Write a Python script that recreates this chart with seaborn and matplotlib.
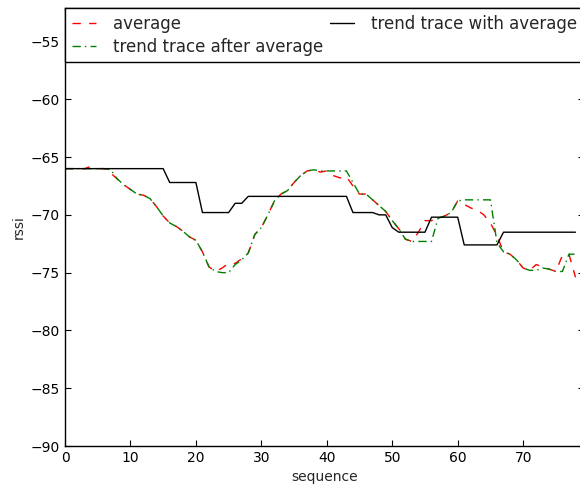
import numpy as np
import pandas as pd
import seaborn as sns
import matplotlib
matplotlib.use("Agg")
import matplotlib.pyplot as plt

# rssi readings
sequence = list(range(79))
average = [
    -66.0, -66.0, -66.0, -66.0, -65.8, -66.0, -66.0, -66.4, -66.9, -67.4,
    -67.8, -68.2, -68.3, -68.6, -69.3, -70.1, -70.7, -71.0, -71.4, -71.9,
    -72.2, -73.2, -74.5, -74.9, -74.6, -74.2, -74.2, -73.8, -73.3, -71.7,
    -71.1, -70.0, -68.8, -68.2, -67.9, -67.2, -66.6, -66.2, -66.1, -66.3,
    -66.2, -66.6, -66.8, -66.7, -67.5, -68.2, -68.2, -68.7, -69.2, -69.7,
    -70.5, -71.2, -72.1, -72.3, -71.5, -70.5, -70.5, -70.3, -70.1, -69.8,
    -68.8, -69.1, -69.4, -69.6, -70.0, -70.7, -71.8, -73.2, -73.4, -73.9,
    -74.6, -74.8, -74.3, -74.5, -74.7, -74.9, -73.5, -73.4, -75.4,
]
trend_after = [
    -66.0, -66.0, -66.0, -66.0, -66.0, -66.0, -66.0, -66.1, -66.9, -67.4,
    -67.8, -68.2, -68.3, -68.6, -69.3, -70.1, -70.7, -71.0, -71.4, -71.9,
    -72.2, -73.2, -74.5, -74.9, -75.0, -75.0, -74.3, -73.9, -73.3, -71.7,
    -71.1, -70.0, -68.8, -68.2, -67.9, -67.2, -66.6, -66.2, -66.1, -66.2,
    -66.2, -66.2, -66.2, -66.2, -67.2, -68.2, -68.2, -68.7, -69.2, -69.7,
    -70.5, -71.2, -72.1, -72.3, -72.3, -72.3, -72.3, -70.3, -70.1, -69.8,
    -68.8, -68.7, -68.7, -68.7, -68.7, -68.7, -72.4, -73.2, -73.4, -73.9,
    -74.6, -74.8, -74.8, -74.6, -74.7, -74.9, -74.9, -73.4, -73.4,
]
trend_with = (
    [-66.0] * 16 + [-67.2] * 5 + [-69.8] * 5 + [-69.0] * 2 + [-68.4] * 16
    + [-69.8] * 4 + [-70.0] * 2 + [-71.1] + [-71.5] * 5 + [-70.2] * 5
    + [-72.6] * 6 + [-71.5] * 12
)

sns.set_style("white", {
    "axes.edgecolor": "black",
    "xtick.direction": "in",
    "ytick.direction": "in",
    "xtick.bottom": True,
    "ytick.left": True,
    "xtick.top": True,
    "ytick.right": True,
})
plt.rcParams["font.family"] = ["DejaVu Sans"]
plt.rcParams["lines.scale_dashes"] = False
plt.rcParams["lines.dashed_pattern"] = [6, 6]
plt.rcParams["lines.dashdot_pattern"] = [6, 3, 1, 3]

df = pd.DataFrame({"sequence": sequence, "average": average,
                   "after": trend_after, "with": trend_with})

fig = plt.figure(figsize=(5.8, 4.86), dpi=100)
ax = fig.add_axes([65 / 580, 40 / 486, 519 / 580, 438 / 486])

sns.lineplot(data=df, x="sequence", y="average", ax=ax, color="red",
             linestyle="--", linewidth=1, label="average")
sns.lineplot(data=df, x="sequence", y="after", ax=ax, color="green",
             linestyle="-.", linewidth=1, label="trend trace after average")
sns.lineplot(data=df, x="sequence", y="with", ax=ax, color="black",
             linestyle="-", linewidth=1, label="trend trace with average")

ax.set_xlim(0, 79.3)
ax.set_ylim(-90, -52.1)
ax.set_xticks(range(0, 80, 10))
ax.set_yticks(range(-90, -54, 5))
ax.tick_params(labelsize=10, length=4, width=0.8, colors="black")
ax.set_xlabel("sequence", fontsize=10)
ax.set_ylabel("rssi", fontsize=10)
for s in ax.spines.values():
    s.set_linewidth(1)

leg = ax.legend(loc="upper left", bbox_to_anchor=(0, 1, 1, 0), mode="expand",
                ncol=2, borderaxespad=0, fontsize=12, fancybox=False,
                framealpha=1, edgecolor="black", handlelength=1.45,
                handletextpad=1.05, labelspacing=0.3)
leg.get_frame().set_linewidth(1)

fig.savefig("out.png", dpi=100)
